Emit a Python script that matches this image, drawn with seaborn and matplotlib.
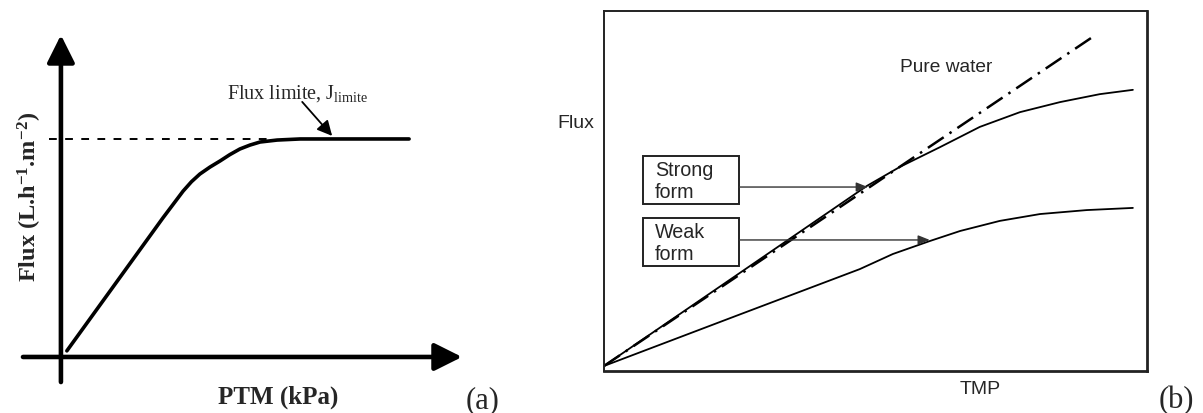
import matplotlib
matplotlib.use("Agg")
import matplotlib.pyplot as plt
import seaborn as sns
from matplotlib.patches import Rectangle

sns.set_style("white")
plt.rcParams["mathtext.fontset"] = "custom"
plt.rcParams["mathtext.rm"] = "Liberation Serif"
plt.rcParams["mathtext.it"] = "Liberation Serif:italic"
plt.rcParams["mathtext.bf"] = "Liberation Serif:bold"

SERIF = "Liberation Serif"
SANS = "Liberation Sans"

# (a) limiting flux curve (arbitrary units, plateau = 100)
ptm = [1.7, 29.3, 35.1, 37.5, 39.9, 42.8, 45.7, 48.5, 51.4, 54.3, 57.2, 62.1, 68.7, 100]
flux_a = [2.8, 63.8, 76.1, 80.4, 83.9, 87.1, 89.9, 92.8, 95.4, 97.2, 98.6, 99.5, 100, 100]
j_lim = 100

# (b) critical flux, strong / weak form
tmp_water = [0, 89.7]
flux_water = [1.4, 92.5]
tmp_strong = [0, 48.4, 54.5, 61.9, 69.2, 76.6, 84.0, 91.3, 97.4]
flux_strong = [1.4, 51.4, 56.7, 62.2, 67.8, 71.9, 74.7, 76.9, 78.1]
tmp_weak = [0, 25, 47.1, 53.2, 60.0, 65.6, 72.9, 80.3, 88.9, 97.4]
flux_weak = [1.4, 15.7, 28.3, 32.5, 36.1, 38.9, 41.7, 43.6, 44.7, 45.3]

fig = plt.figure(figsize=(12.03, 4.14), dpi=100)

# ---- panel (a)
ax1 = fig.add_axes([0, 0, 540 / 1203, 1])
ax1.set_xlim(-17.5, 137.6)
ax1.set_ylim(-25.7, 164.2)
ax1.axis("off")

axis_arrow = dict(arrowstyle="-|>,head_length=0.8,head_width=0.4", mutation_scale=21,
                  lw=3.3, color="black", shrinkA=0, shrinkB=0)
ax1.annotate("", xy=(0, 147.7), xytext=(0, -11.5), arrowprops=axis_arrow)
ax1.annotate("", xy=(115.2, 0), xytext=(-10.9, 0), arrowprops=axis_arrow)

ax1.plot([-3.4, 59.2], [j_lim, j_lim], color="black", lw=1.4, linestyle=(0, (4, 4.3)))
sns.lineplot(x=ptm, y=flux_a, ax=ax1, color="black", lw=2.6, sort=False)

ax1.text(47.7, 118.8, r"Flux limite, J$_{\mathrm{limite}}$", family=SERIF, fontsize=14.5,
         va="baseline", ha="left")
ax1.annotate("", xy=(77.9, 101.4), xytext=(69.3, 117),
             arrowprops=dict(arrowstyle="-|>,head_length=0.9,head_width=0.45",
                             mutation_scale=10, lw=1.3, color="black",
                             shrinkA=0, shrinkB=0))
ax1.text(-9.0, 73.9, r"Flux (L.h$\mathbf{^{-1}}$.m$\mathbf{^{-2}}$)", family=SERIF,
         fontweight="bold", fontsize=17.5, rotation=90, ha="center", va="center")
ax1.text(62.4, -17.9, "PTM (kPa)", family=SERIF, fontweight="bold", fontsize=18,
         ha="center", va="center")

# ---- panel (b)
ax2 = fig.add_axes([604 / 1203, 42 / 414, 543 / 1203, 360 / 414])
ax2.set_xlim(0, 100)
ax2.set_ylim(0, 100)
ax2.set_xticks([])
ax2.set_yticks([])
for side, sp in ax2.spines.items():
    sp.set_visible(True)
    sp.set_color("#222222")
    sp.set_linewidth(2.0 if side in ("right", "bottom") else 1.4)

sns.lineplot(x=tmp_water, y=flux_water, ax=ax2, color="black", lw=1.8, sort=False,
             linestyle=(0, (7.6, 2.8, 1, 2.8)))
sns.lineplot(x=tmp_strong, y=flux_strong, ax=ax2, color="black", lw=1.3, sort=False)
sns.lineplot(x=tmp_weak, y=flux_weak, ax=ax2, color="black", lw=1.3, sort=False)

small_arrow = dict(arrowstyle="-|>,head_length=0.7,head_width=0.28", mutation_scale=10,
                   lw=1.0, color="#333333", shrinkA=0, shrinkB=0)
boxes = [("Strong\nform", 46.4, 51.1, 48.6), ("Weak\nform", 29.2, 36.4, 60.0)]
for label, y0, ya, xa in boxes:
    ax2.add_patch(Rectangle((7.2, y0), 17.7, 13.3, fill=False, lw=1.4, edgecolor="#222222"))
    ax2.text(9.4, y0 + 6.6, label, family=SANS, fontsize=14.2, ha="left", va="center",
             linespacing=1.2)
    ax2.annotate("", xy=(xa, ya), xytext=(24.9, ya), arrowprops=small_arrow)

ax2.text(54.5, 84.7, "Pure water", family=SANS, fontsize=13.8, ha="left", va="center")
ax2.text(-5.2, 69.0, "Flux", family=SANS, fontsize=14, ha="center", va="center",
         clip_on=False)
ax2.text(69.2, -5.0, "TMP", family=SANS, fontsize=14, ha="center", va="center",
         clip_on=False)

fig.text(483 / 1203, 1 - 401 / 414, "(a)", family=SERIF, fontsize=22, ha="center", va="center")
fig.text(1176 / 1203, 1 - 401 / 414, "(b)", family=SERIF, fontsize=22, ha="center", va="center")

fig.savefig("out.png", dpi=100)
